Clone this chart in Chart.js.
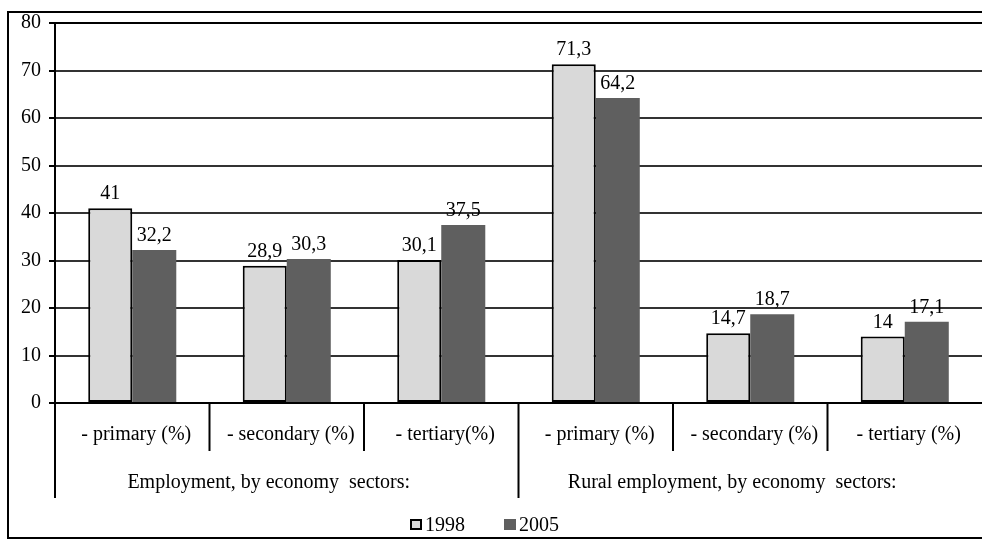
<!DOCTYPE html>
<html>
<head>
<meta charset="utf-8">
<title>Employment by economy sectors</title>
<script src="https://cdn.jsdelivr.net/npm/chart.js@4/dist/chart.umd.min.js"></script>
<style>
  html, body { margin: 0; padding: 0; background: #fff; }
  canvas { display: block; }
</style>
</head>
<body>
<canvas id="sectorsChart" width="982" height="539"></canvas>
<script>
// categories, grouped two levels deep along the x axis
const categories = ['- primary (%)', '- secondary (%)', '- tertiary(%)', '- primary (%)', '- secondary (%)', '- tertiary (%)'];
const groups = ['Employment, by economy  sectors:', 'Rural employment, by economy  sectors:'];
const groupSizes = [3, 3];

// series values
const years = ['1998', '2005'];
const values1998 = [41, 28.9, 30.1, 71.3, 14.7, 14];
const values2005 = [32.2, 30.3, 37.5, 64.2, 18.7, 17.1];

// y axis ticks
const yTicks = [0, 10, 20, 30, 40, 50, 60, 70, 80];

const serif = '"Liberation Serif", "Times New Roman", serif';
const fontSize = 20;
const lightGray = '#d9d9d9';
const darkGray = '#5f5f5f';

function fmt(v) {
    return String(v).replace('.', ',');
}

// draws value labels, the two-level category axis, the legend and the frame
const decorPlugin = {
    id: 'decor',
    afterDatasetsDraw(chart) {
        const ctx = chart.ctx;
        const area = chart.chartArea;
        const x = chart.scales.x;
        const font = fontSize + 'px ' + serif;

        ctx.save();
        ctx.fillStyle = '#000';
        ctx.font = font;
        ctx.textAlign = 'center';
        ctx.textBaseline = 'alphabetic';
        chart.data.datasets.forEach((ds, i) => {
            const meta = chart.getDatasetMeta(i);
            meta.data.forEach((bar, j) => {
                ctx.fillText(fmt(ds.data[j]), bar.x, bar.y - 9);
            });
        });

        // category dividers (the last one falls just off the canvas)
        const n = categories.length;
        const step = (area.right - area.left) / n;
        const outerBottom = area.bottom + 95;
        const innerBottom = area.bottom + 48;
        ctx.strokeStyle = '#000';
        ctx.lineWidth = 2;
        const boundaries = [0];
        let acc = 0;
        groupSizes.forEach(s => { acc += s; boundaries.push(acc); });
        for (let k = 0; k < n; k++) {
            const px = area.left + k * step;
            const outer = boundaries.includes(k);
            ctx.beginPath();
            ctx.moveTo(px, area.bottom);
            ctx.lineTo(px, outer ? outerBottom : innerBottom);
            ctx.stroke();
        }

        // category labels
        ctx.textBaseline = 'middle';
        categories.forEach((c, k) => {
            ctx.fillText(c, x.getPixelForValue(k) + 4, area.bottom + 32);
        });

        // group labels
        let start = 0;
        groups.forEach((g, k) => {
            const left = area.left + start * step;
            const right = area.left + (start + groupSizes[k]) * step;
            ctx.fillText(g, (left + right) / 2 - 18, area.bottom + 80);
            start += groupSizes[k];
        });

        // legend
        const legendY = 525;
        const items = chart.data.datasets.map(ds => ({
            text: ds.label, fill: ds.backgroundColor, border: ds.borderWidth > 0
        }));
        ctx.textAlign = 'left';
        let lx = 410;
        items.forEach(it => {
            ctx.fillStyle = it.fill;
            ctx.fillRect(lx, legendY - 6, 12, 11);
            if (it.border) {
                ctx.strokeStyle = '#000';
                ctx.lineWidth = 2;
                ctx.strokeRect(lx + 1, legendY - 5, 10, 9);
            }
            ctx.fillStyle = '#000';
            ctx.fillText(it.text, lx + 15, legendY + 1);
            lx += 94;
        });

        // frame around the whole chart
        ctx.strokeStyle = '#000';
        ctx.lineWidth = 2;
        ctx.strokeRect(8, 12, chart.width + 4, 526);
        ctx.restore();
    }
};

new Chart(document.getElementById('sectorsChart'), {
    type: 'bar',
    data: {
        labels: categories,
        datasets: [
            {
                label: years[0],
                data: values1998,
                backgroundColor: lightGray,
                borderColor: '#000',
                borderWidth: 2,
                borderSkipped: false
            },
            {
                label: years[1],
                data: values2005,
                backgroundColor: darkGray,
                borderWidth: 0
            }
        ]
    },
    options: {
        responsive: false,
        animation: false,
        layout: { padding: { top: 23, bottom: 136, left: 0, right: 0 } },
        plugins: {
            legend: { display: false },
            tooltip: { enabled: false }
        },
        datasets: {
            bar: { categoryPercentage: 0.57, barPercentage: 1 }
        },
        scales: {
            x: {
                display: false
            },
            y: {
                min: 0,
                max: 80,
                afterFit(scale) { scale.width = 55; },
                afterBuildTicks(scale) { scale.ticks = yTicks.map(v => ({ value: v })); },
                border: { display: true, color: '#000', width: 2 },
                grid: {
                    color: ctx => (ctx.tick && (ctx.tick.value === 0 || ctx.tick.value === 80)) ? '#000' : '#333',
                    lineWidth: 2,
                    tickLength: 6,
                    tickColor: '#000',
                    drawTicks: true
                },
                ticks: {
                    color: '#000',
                    padding: 8,
                    font: { family: serif, size: fontSize }
                }
            }
        }
    },
    plugins: [decorPlugin]
});
</script>
</body>
</html>
